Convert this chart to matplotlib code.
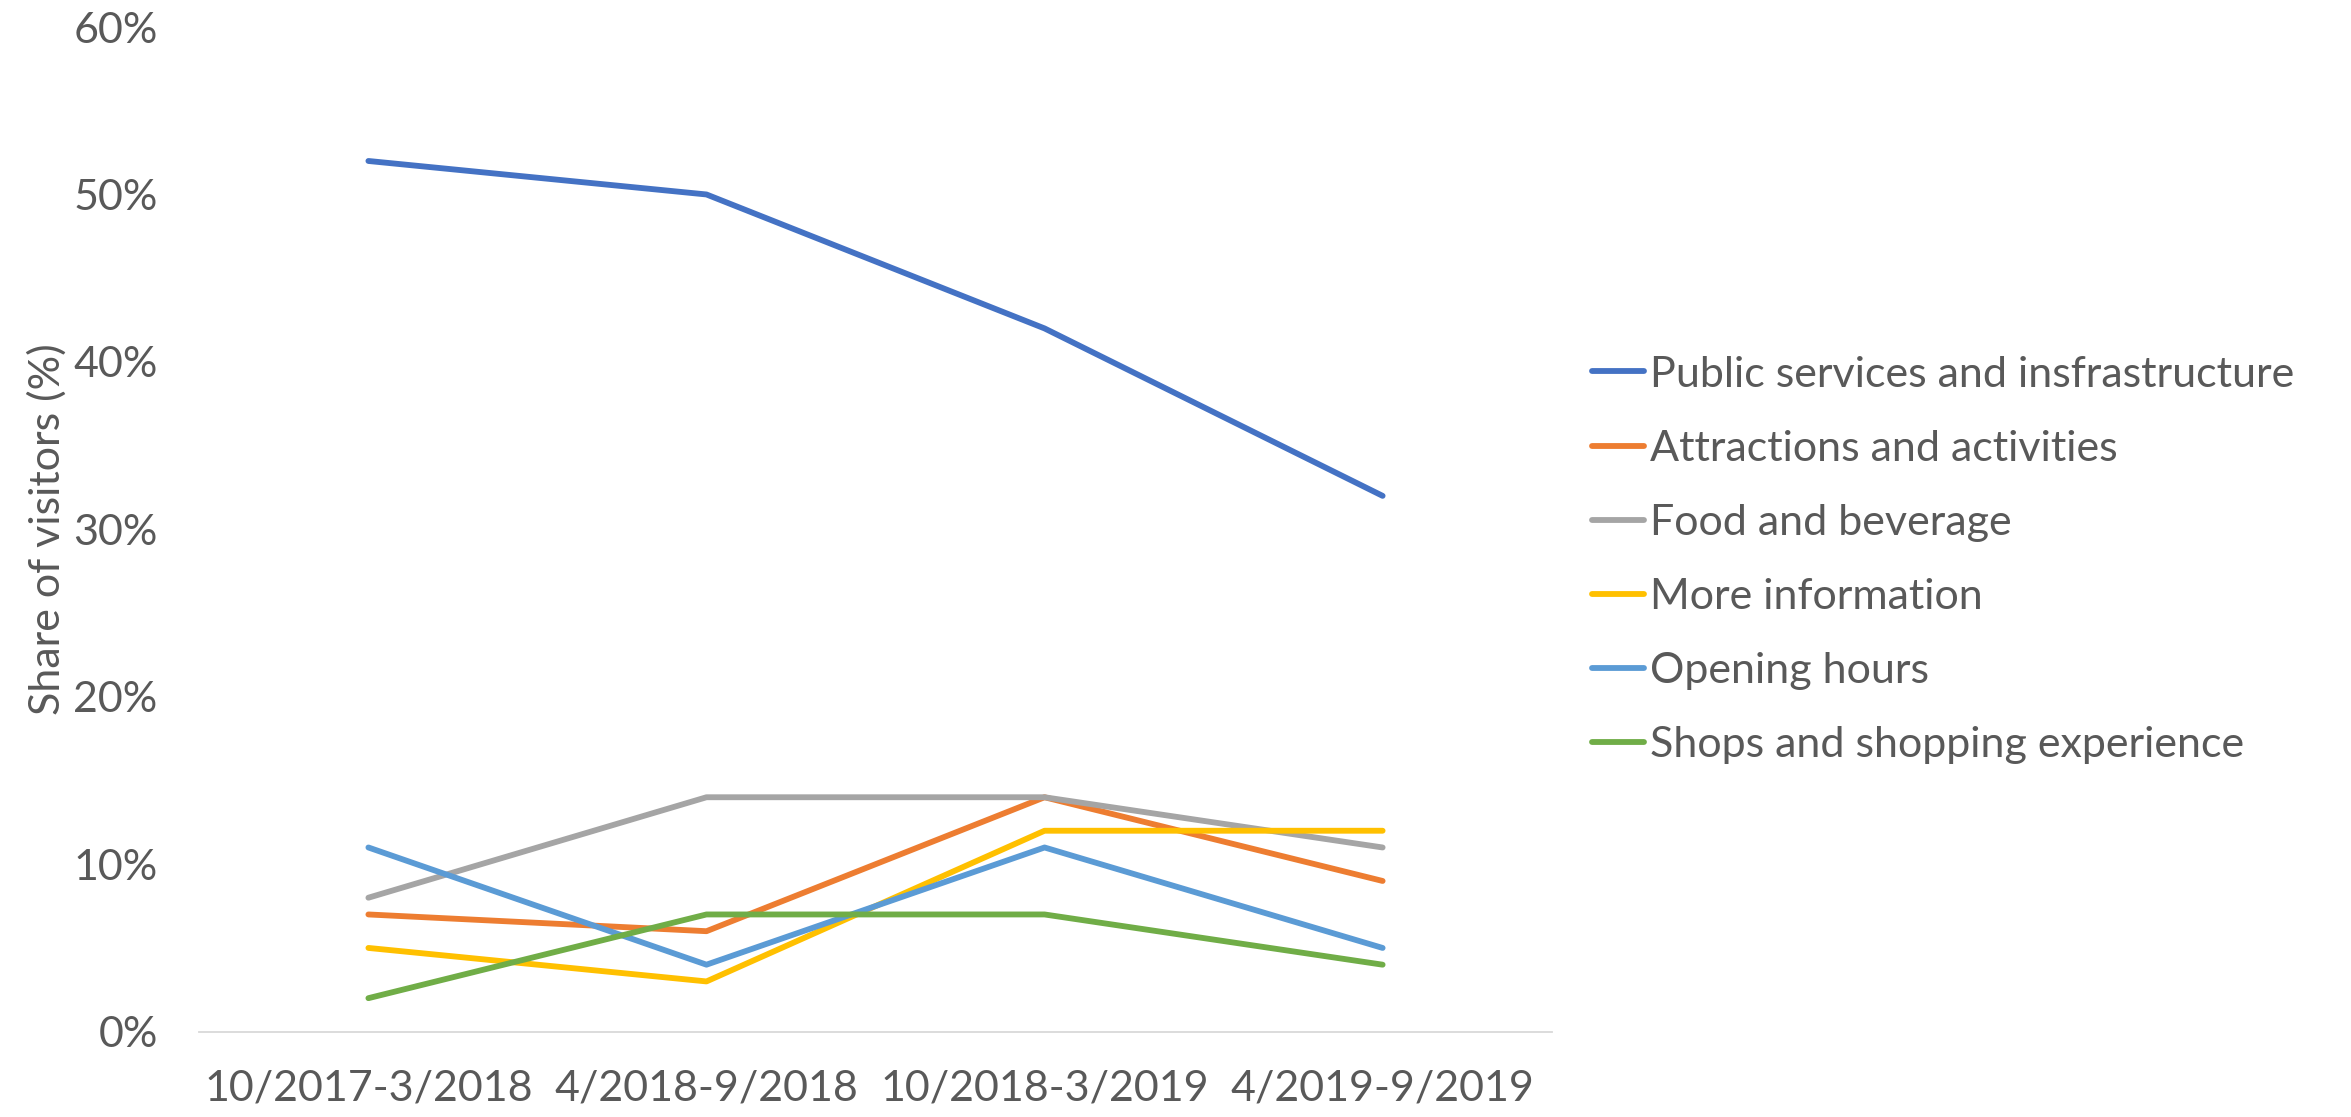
import matplotlib.pyplot as plt
import numpy as np

periods = ["10/2017-3/2018", "4/2018-9/2018", "10/2018-3/2019", "4/2019-9/2019"]
public_services = [52, 50, 42, 32]
attractions = [7, 6, 14, 9]
food = [8, 14, 14, 11]
more_info = [5, 3, 12, 12]
opening_hours = [11, 4, 11, 5]
shops = [2, 7, 7, 4]

series = [
    ("Public services and insfrastructure", public_services, "#4472C4"),
    ("Attractions and activities", attractions, "#ED7D31"),
    ("Food and beverage", food, "#A5A5A5"),
    ("More information", more_info, "#FFC000"),
    ("Opening hours", opening_hours, "#5B9BD5"),
    ("Shops and shopping experience", shops, "#70AD47"),
]

plt.rcParams['font.family'] = ['Lato', 'DejaVu Sans']
txt = "#595959"
fs = 31

fig = plt.figure(figsize=(23.51, 11.17), dpi=100)
ax = fig.add_axes([0.0848, 0.0764, 0.5752, 0.8994])

x = np.arange(len(periods))
for name, vals, col in series:
    ax.plot(x, vals, color=col, lw=4.2, label=name, solid_capstyle='round')

ax.set_xlim(-0.5, 3.5)
ax.set_ylim(0, 60)
ax.set_yticks(range(0, 61, 10))
ax.set_yticklabels([f"{v}%" for v in range(0, 61, 10)])
ax.set_xticks(x)
ax.set_xticklabels(periods)
ax.tick_params(axis='both', length=0, labelsize=fs, colors=txt)
ax.tick_params(axis='x', pad=27)
ax.tick_params(axis='y', pad=30)
for s in ["top", "right", "left"]:
    ax.spines[s].set_visible(False)
ax.spines["bottom"].set_color("#D9D9D9")
ax.spines["bottom"].set_linewidth(1.3)
ax.set_ylabel("Share of visitors (%)", fontsize=fs, color=txt, labelpad=5)

fig.legend(loc='center left', bbox_to_anchor=(1592 / 2351, 0.4987), frameon=False,
           fontsize=fs, handlelength=1.2, handletextpad=0.15, labelspacing=0.84,
           borderpad=0, borderaxespad=0, labelcolor=txt)

fig.savefig("out.png", dpi=100)
